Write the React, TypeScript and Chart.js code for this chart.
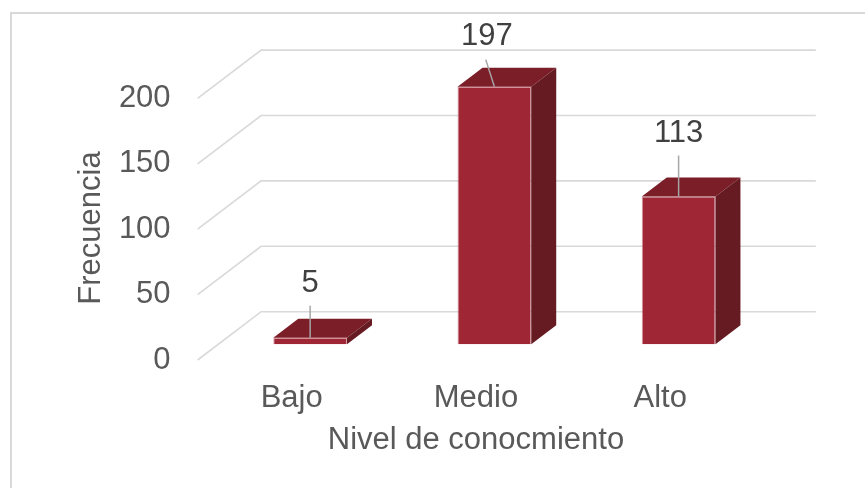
import React, { useEffect, useRef } from "react";
import { Chart, registerables } from "chart.js";

Chart.register(...registerables);

// ---- data ----
const categories = ["Bajo", "Medio", "Alto"];
const frecuencia = [5, 197, 113];
const yTicks = [0, 50, 100, 150, 200];
const xTitle = "Nivel de conocmiento";
const yTitle = "Frecuencia";

// ---- layout / style ----
const W = 865;
const H = 488;
const FONT = "'Liberation Sans', Arial, sans-serif";
const FS = 31;
const TEXT = "#595959";
const LABEL = "#404040";
const GRID = "#d9d9d9";
const FRONT = "#9e2635";
const TOP = "#7b1e28";
const SIDE = "#661b22";
const WALL_DX = 63.5;
const WALL_DY = -48.3;
const BAR_DX = 25;
const BAR_DY = -19;
// offsets relative to the top-front-centre of each bar: [labelDx, labelDy, leaderDx, leaderDy]
const labelLayout = [
  [0, -54, 0, -32],
  [-7.6, -50, -8.6, -27],
  [0, -63, 0, -41],
];

const threeD = {
  id: "threeD",
  beforeDraw(chart: any) {
    const ctx = chart.ctx;
    ctx.save();
    ctx.fillStyle = "#ffffff";
    ctx.fillRect(0, 0, W, H);
    ctx.strokeStyle = GRID;
    ctx.lineWidth = 2;
    ctx.strokeRect(11, 13, W + 20, H + 20);
    ctx.restore();
  },
  beforeDatasetsDraw(chart: any) {
    const ctx = chart.ctx;
    const y = chart.scales.y;
    const { left, right } = chart.chartArea;
    ctx.save();
    ctx.strokeStyle = GRID;
    ctx.lineWidth = 1.6;
    yTicks.forEach((v) => {
      const py = y.getPixelForValue(v);
      ctx.beginPath();
      ctx.moveTo(left - 2, py);
      ctx.lineTo(left - 2 + WALL_DX, py + WALL_DY);
      ctx.lineTo(right + WALL_DX, py + WALL_DY);
      ctx.stroke();
    });
    ctx.restore();
  },
  afterDatasetsDraw(chart: any) {
    const ctx = chart.ctx;
    const meta = chart.getDatasetMeta(0);
    ctx.save();
    meta.data.forEach((bar: any, i: number) => {
      const { x, y, base, width } = bar.getProps(["x", "y", "base", "width"], true);
      const l = x - width / 2;
      const r = x + width / 2;
      ctx.fillStyle = TOP;
      ctx.beginPath();
      ctx.moveTo(l, y);
      ctx.lineTo(l + BAR_DX, y + BAR_DY);
      ctx.lineTo(r + BAR_DX, y + BAR_DY);
      ctx.lineTo(r, y);
      ctx.closePath();
      ctx.fill();
      ctx.fillStyle = SIDE;
      ctx.beginPath();
      ctx.moveTo(r, y);
      ctx.lineTo(r + BAR_DX, y + BAR_DY);
      ctx.lineTo(r + BAR_DX, base + BAR_DY);
      ctx.lineTo(r, base);
      ctx.closePath();
      ctx.fill();
      const [ldx, ldy, sdx, sdy] = labelLayout[i];
      ctx.strokeStyle = "#a6a6a6";
      ctx.lineWidth = 1.5;
      ctx.beginPath();
      ctx.moveTo(x + sdx, y + sdy);
      ctx.lineTo(x, y);
      ctx.stroke();
      ctx.fillStyle = LABEL;
      ctx.font = `${FS}px ${FONT}`;
      ctx.textAlign = "center";
      ctx.textBaseline = "middle";
      ctx.fillText(String(frecuencia[i]), x + ldx, y + ldy);
    });
    ctx.fillStyle = TEXT;
    ctx.font = `${FS}px ${FONT}`;
    ctx.translate(91, 228);
    ctx.rotate(-Math.PI / 2);
    ctx.textAlign = "center";
    ctx.textBaseline = "middle";
    ctx.fillText(yTitle, 0, 0);
    ctx.restore();
  },
};

export default function App() {
  const ref = useRef<HTMLCanvasElement | null>(null);
  useEffect(() => {
    if (!ref.current) return;
    const chart = new Chart(ref.current, {
      type: "bar",
      data: {
        labels: categories,
        datasets: [
          {
            data: frecuencia.map((v, i) => ({ x: i, y: v })),
            backgroundColor: FRONT,
            borderColor: "rgba(200,110,120,0.7)",
            borderWidth: 1,
            barPercentage: 0.4,
            categoryPercentage: 1,
            xAxisID: "x2",
            yAxisID: "y2",
          },
        ],
      },
      options: {
        responsive: false,
        animation: false,
        devicePixelRatio: 1,
        layout: { padding: { top: 33, right: 112.7, left: 0, bottom: 0 } },
        plugins: { legend: { display: false }, tooltip: { enabled: false } },
        scales: {
          x: {
            type: "category",
            position: "bottom",
            grid: { display: false, drawTicks: false },
            border: { display: false },
            ticks: { color: TEXT, font: { size: FS, family: FONT }, padding: 20 },
            title: {
              display: true,
              text: xTitle,
              color: TEXT,
              font: { size: FS, family: FONT },
              padding: { top: 0, bottom: 29.4 },
            },
            afterFit: (s: any) => {
              s.height = 128;
              s.paddingLeft = 0;
              s.paddingRight = 0;
            },
          },
          x2: {
            type: "linear",
            display: false,
            min: -0.6,
            max: 2.4,
            offset: false,
            afterBuildTicks: (s: any) => {
              s.ticks = [0, 1, 2].map((v) => ({ value: v }));
            },
          },
          y: {
            type: "linear",
            position: "left",
            min: 0,
            max: 250,
            grid: { display: false, drawTicks: false },
            border: { display: false },
            ticks: { color: TEXT, font: { size: FS, family: FONT }, padding: 29 },
            afterBuildTicks: (s: any) => {
              s.ticks = yTicks.map((v) => ({ value: v }));
            },
            afterFit: (s: any) => {
              s.width = 199.6;
              s.paddingTop = 0;
              s.paddingBottom = 0;
            },
          },
          y2: {
            type: "linear",
            display: false,
            min: -12,
            max: 238,
          },
        },
      },
      plugins: [threeD],
    } as any);
    return () => chart.destroy();
  }, []);
  return (
    <div style={{ position: "fixed", left: 0, top: 0, width: W, height: H, background: "#fff" }}>
      <canvas ref={ref} width={W} height={H} style={{ display: "block" }} />
    </div>
  );
}
